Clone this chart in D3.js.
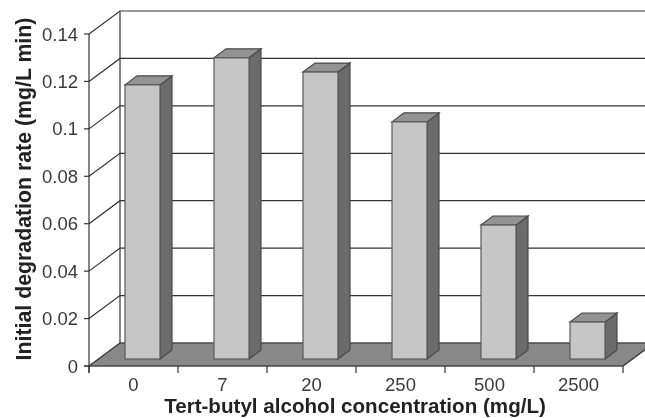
<!DOCTYPE html>
<html><head><meta charset="utf-8"><script src="https://cdn.jsdelivr.net/npm/d3@7"></script>
<style>html,body{margin:0;padding:0;background:#fff;overflow:hidden}svg{display:block;filter:blur(.35px)}text{font-family:"Liberation Sans",Arial,sans-serif;fill:#3a3a3a}</style></head>
<body><svg id="c" width="645" height="418"></svg>
<script>
const categories=["0","7","20","250","500","2500"];
const rates=[0.1156,0.127,0.121,0.1,0.0565,0.0156];
const yTicks=[0,0.02,0.04,0.06,0.08,0.1,0.12,0.14];
const xAxisLabel="Tert-butyl alcohol concentration (mg/L)";
const yAxisLabel="Initial degradation rate (mg/L min)";

const svg=d3.select("#c"),L=89,R=623,Y0=366,Y1=34,dx=31,dy=-23,bdx=12,bdy=-9,lineC="#333";
const x=d3.scaleBand().domain(categories).range([L,R]);
const y=d3.scaleLinear().domain([0,0.14]).range([Y0,Y1]);
const w=35,barOff=36,baseLift=7;

// floor
svg.append("polygon").attr("fill","#888").attr("stroke","#777")
 .attr("points",[[L,Y0],[R,Y0],[R+dx,Y0+dy],[L+dx,Y0+dy]].join(" "));
// back wall gridlines and side wall diagonals
svg.append("g").selectAll("path").data(yTicks).join("path").attr("fill","none").attr("stroke",lineC).attr("stroke-width",1.2)
 .attr("d",d=>`M${L},${y(d)}L${L+dx},${y(d)+dy}L645,${y(d)+dy}`);
svg.append("line").attr("x1",L+dx).attr("x2",L+dx).attr("y1",Y1+dy).attr("y2",Y0+dy).attr("stroke",lineC).attr("stroke-width",1.2);
svg.append("line").attr("x1",L).attr("x2",L).attr("y1",Y1).attr("y2",Y0+7).attr("stroke",lineC).attr("stroke-width",1.2);
// axis lines & ticks
svg.append("line").attr("x1",L-5).attr("x2",R).attr("y1",Y0).attr("y2",Y0).attr("stroke",lineC).attr("stroke-width",1.2);
svg.append("g").selectAll("line").data(yTicks).join("line").attr("x1",L-5).attr("x2",L).attr("y1",d=>y(d)).attr("y2",d=>y(d)).attr("stroke",lineC).attr("stroke-width",1.2);
svg.append("g").selectAll("line").data(categories.concat(["end"])).join("line")
 .attr("x1",(d,i)=>L+i*x.step()).attr("x2",(d,i)=>L+i*x.step()).attr("y1",Y0).attr("y2",Y0+7).attr("stroke",lineC).attr("stroke-width",1.2);
svg.append("line").attr("x1",R).attr("x2",R+dx).attr("y1",Y0).attr("y2",Y0+dy).attr("stroke",lineC).attr("stroke-width",1.2);
// bars
const bars=svg.append("g").selectAll("g").data(categories).join("g");
const bx=c=>x(c)+barOff;
const topY=i=>y(rates[i])-baseLift;
const base=Y0-baseLift;
bars.append("polygon").attr("fill","#6b6b6b").attr("stroke","#4a4a4a").attr("stroke-width",1.2)
 .attr("points",(c,i)=>[[bx(c)+w,topY(i)],[bx(c)+w+bdx,topY(i)+bdy],[bx(c)+w+bdx,base+bdy],[bx(c)+w,base]].join(" "));
bars.append("polygon").attr("fill","#939393").attr("stroke","#4a4a4a").attr("stroke-width",1.2)
 .attr("points",(c,i)=>[[bx(c),topY(i)],[bx(c)+bdx,topY(i)+bdy],[bx(c)+w+bdx,topY(i)+bdy],[bx(c)+w,topY(i)]].join(" "));
bars.append("rect").attr("fill","#c6c6c6").attr("stroke","#5a5a5a").attr("stroke-width",1.2)
 .attr("x",c=>bx(c)).attr("y",(c,i)=>topY(i)).attr("width",w).attr("height",(c,i)=>base-topY(i));
// labels
svg.append("g").selectAll("text").data(yTicks).join("text").attr("x",78).attr("y",d=>y(d)+6.5).attr("text-anchor","end").attr("font-size",18.5).text(d=>d);
svg.append("g").selectAll("text").data(categories).join("text").attr("x",c=>x(c)+x.bandwidth()/2).attr("y",391).attr("text-anchor","middle").attr("font-size",18.5).text(c=>c);
svg.append("text").attr("x",355).attr("y",413).attr("text-anchor","middle").attr("font-size",20.6).attr("font-weight","bold").attr("style","fill:#222").text(xAxisLabel);
svg.append("text").attr("transform","translate(31,189) rotate(-90)").attr("text-anchor","middle").attr("font-size",21.3).attr("font-weight","bold").attr("style","fill:#222").text(yAxisLabel);
</script></body></html>
